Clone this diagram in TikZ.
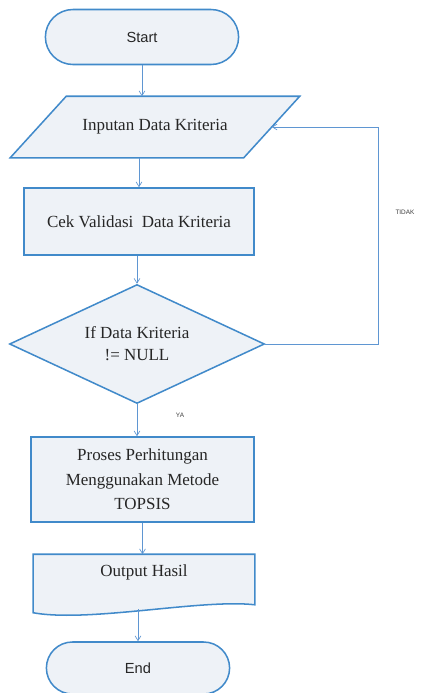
\documentclass[tikz,border=0pt]{standalone}
\usepackage{fontspec}
\setmainfont{Liberation Serif}
\setsansfont{Liberation Sans}
\usetikzlibrary{shapes.geometric, shapes.misc}
\usetikzlibrary{arrows.meta}
\usetikzlibrary{backgrounds}
\definecolor{flowblue}{RGB}{65,138,202}
\definecolor{flowfill}{RGB}{238,242,247}
\definecolor{linkblue}{RGB}{95,150,210}

\begin{document}
\begin{tikzpicture}[x=0.03cm, y=-0.03cm,
  base/.style={draw=flowblue, line width=1.3pt, fill=flowfill, align=center, text=black!85, font=\fontsize{14.5}{19}\selectfont},
  term/.style={base, rounded rectangle, font=\sffamily\fontsize{12.5}{15}\selectfont},
  io/.style={base, rectangle, draw=none, fill=none},
  proc/.style={base, rectangle},
  decide/.style={base, diamond, aspect=2, inner sep=0pt},
  docu/.style={base, draw=none, fill=none, text depth=15pt},
  shapeline/.style={draw=flowblue, line width=1.3pt, fill=flowfill},
  flow/.style={draw=linkblue, line width=0.6pt, -{Straight Barb[length=4pt, width=5pt]}},
  tag/.style={font=\sffamily\fontsize{5.5}{6}\selectfont, text=black!75}]
\useasboundingbox (0,0) rectangle (440,693);

\node[term, minimum width=6.03cm, minimum height=1.65cm] (start) at (142,37) {Start};
\node[io, minimum width=6.96cm, minimum height=1.8cm] (inp) at (155,127) {Inputan Data Kriteria};
\node[proc, minimum width=6.9cm, minimum height=2.01cm] (cek) at (139,221.5) {Cek Validasi\ \ Data Kriteria};
\node[decide, minimum width=7.65cm, minimum height=3.57cm] (dec) at (137,344) {If Data Kriteria\\!= NULL};
\node[proc, minimum width=6.69cm, minimum height=2.55cm, font=\fontsize{14.5}{21}\selectfont] (hitung) at (142.5,479.5) {Proses Perhitungan\\Menggunakan Metode\\TOPSIS};
\node[docu, minimum width=6.6cm, minimum height=1.47cm] (out) at (144,579.5) {Output Hasil};
\node[term, minimum width=5.73cm, minimum height=1.56cm] (end) at (138,668) {End};

\begin{scope}[on background layer]
\draw[shapeline] ([xshift=0.84cm]inp.north west) -- ([xshift=0.84cm]inp.north east)
  -- ([xshift=-0.84cm]inp.south east) -- ([xshift=-0.84cm]inp.south west) -- cycle;
\draw[shapeline] (out.north west) -- (out.north east) -- (out.south east)
  .. controls +(-54,-6) and +(56,10) .. ([yshift=-0.24cm]out.south west) -- cycle;
\end{scope}

\coordinate (outbottom) at (138,609);
\coordinate (tidakturn) at (378,344);

\draw[flow] (start.south) -- (start.south |- inp.north);
\draw[flow] (cek.north |- inp.south) -- (cek.north);
\draw[flow] (dec.north |- cek.south) -- (dec.north);
\draw[flow] (dec.south) -- (dec.south |- hitung.north);
\draw[flow] (hitung.south) -- (hitung.south |- out.north);
\draw[flow] (outbottom) -- (end.north);
\draw[flow] (dec.east) -- (tidakturn) |- (inp.east);

\node[tag] (tidak) at (405,212) {TIDAK};
\node[tag] (ya) at (180,415) {YA};
\end{tikzpicture}
\end{document}
